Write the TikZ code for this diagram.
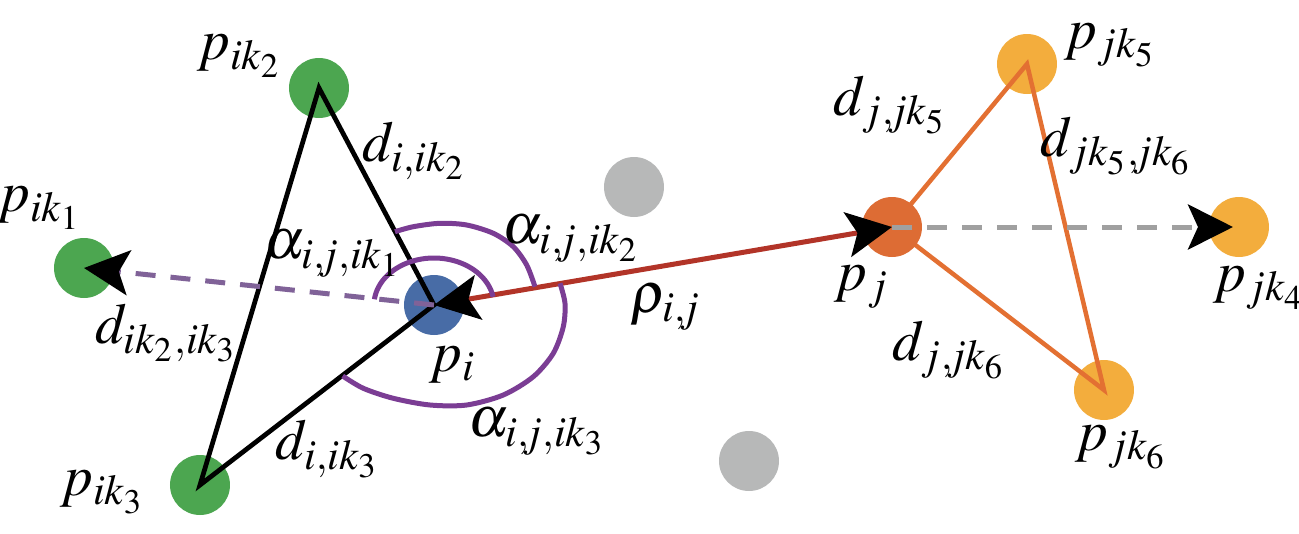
\documentclass[tikz,border=0pt]{standalone}
\usepackage{mathptmx}
\usetikzlibrary{arrows.meta}
\pgfdeclarelayer{back}
\pgfdeclarelayer{mid}
\pgfsetlayers{back,mid,main}
\definecolor{cgreen}{RGB}{76,166,80}
\definecolor{cblue}{RGB}{72,108,166}
\definecolor{cgray}{RGB}{183,184,184}
\definecolor{cpj}{RGB}{221,108,52}
\definecolor{cyellow}{RGB}{243,173,61}
\definecolor{cred}{RGB}{178,52,40}
\definecolor{corange}{RGB}{227,112,50}
\definecolor{carc}{RGB}{123,61,148}
\definecolor{cdashp}{RGB}{128,98,152}
\definecolor{cdashg}{RGB}{160,160,160}
\newcommand{\cj}{,\mkern-2.5mu}
\tikzset{
  dotnode/.style={circle, inner sep=0pt, minimum size=12pt, fill=#1},
  lab/.style={inner sep=0pt, font=\fontsize{11.5}{13}\selectfont},
  >={Stealth[length=9pt,width=9pt,inset=2pt,black]},
  blackline/.style={draw=black, line width=0.95pt},
  orangeline/.style={draw=corange, line width=0.9pt},
  redline/.style={draw=cred, line width=1pt},
  arcline/.style={draw=carc, line width=1pt},
  dashline/.style={line width=1pt, dash pattern=on 4pt off 3pt},
}
\begin{document}
\begin{tikzpicture}[x=0.2pt,y=-0.2pt]
\path[use as bounding box] (0,0) rectangle (1299,534);
\begin{pgfonlayer}{back}
\node[dotnode=cgreen] (ik1) at (84,268) {};
\node[dotnode=cgreen] (ik2) at (319,88) {};
\node[dotnode=cgreen] (ik3) at (200,485) {};
\node[dotnode=cblue] (pi) at (434,305) {};
\node[dotnode=cgray] (g1) at (634,187) {};
\node[dotnode=cgray] (g2) at (749,461) {};
\node[dotnode=cyellow] (jk5) at (1027,64) {};
\node[dotnode=cyellow] (jk4) at (1239,227) {};
\node[dotnode=cyellow] (jk6) at (1104,390) {};
\end{pgfonlayer}
\node[dotnode=cpj] (pj) at (892,227) {};
\begin{pgfonlayer}{mid}
\draw[orangeline] (pj.center) -- (jk5.center) -- (jk6.center) -- cycle;
\end{pgfonlayer}
% black triangle
\draw[blackline] (pi.center) -- (ik2.center) -- (ik3.center) -- cycle;
% dashed lines
\draw[dashline, draw=cdashp, ->] (pi.center) -- (ik1.center);
\draw[dashline, draw=cdashg, ->, shorten >=1.2pt] (pj.center) -- (jk4.center);
% red arrow
\draw[redline, <->] (pi.center) -- (pj.center);
% angle arcs
\draw[arcline] plot[domain=10:173,samples=60] ({434+60*cos(\x)},{305-47*sin(\x)});
\draw[arcline] plot[smooth] coordinates {(395,231.7) (413.3,226.7) (440,223.3) (466.7,225) (493.3,233.3) (513.3,246.7) (526.7,265) (535,286.7)};
\draw[arcline] plot[smooth] coordinates {(560,283.3) (565,303.3) (563.3,326.7) (553.3,353.3) (533.3,376.7) (503.3,395) (466.7,405) (430,405) (393.3,398.3) (363.3,388.3) (342.7,376)};
% labels
\node[lab] (Lik2) at (240,56) {$p_{ik_2}$};
\node[lab] (Lik1) at (40,208) {$p_{ik_1}$};
\node[lab] (Ldik2) at (415,151) {$d_{i,ik_2}$};
\node[lab] (La1) at (334,254) {$\alpha_{i\cj j,ik_1}$};
\node[lab] (La2) at (572,239) {$\alpha_{i\cj j,ik_2}$};
\node[lab] (Ld23) at (167,333) {$d_{ik_2,ik_3}$};
\node[lab] (Lpi) at (453,365) {$p_i$};
\node[lab] (La3) at (538,432) {$\alpha_{i\cj j,ik_3}$};
\node[lab] (Ldik3) at (328,449) {$d_{i,ik_3}$};
\node[lab] (Lik3) at (103,492) {$p_{ik_3}$};
\node[lab] (Lrho) at (666,307) {$\rho_{i\cj j}$};
\node[lab] (Lpj) at (862,287) {$p_j$};
\node[lab] (Ldjk5) at (891,105) {$d_{j\cj jk_5}$};
\node[lab] (Ljk5) at (1111,45) {$p_{jk_5}$};
\node[lab] (Ld56) at (1117,146) {$d_{jk_5\cj jk_6}$};
\node[lab] (Ljk4) at (1260,288) {$p_{jk_4}$};
\node[lab] (Ldjk6) at (950,350) {$d_{j\cj jk_6}$};
\node[lab] (Ljk6) at (1122,447) {$p_{jk_6}$};
\end{tikzpicture}
\end{document}
